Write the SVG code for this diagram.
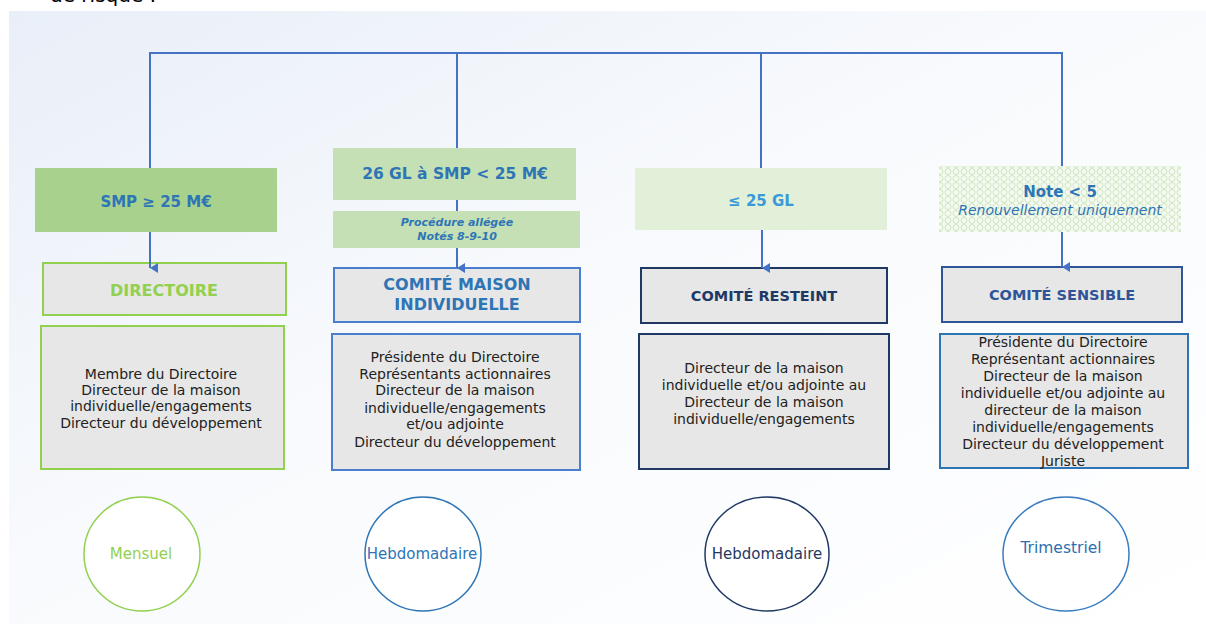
<svg xmlns="http://www.w3.org/2000/svg" width="1206" height="624" viewBox="0 0 1206 624">
  <defs>
    <linearGradient id="bg" x1="0" y1="0" x2="1" y2="1">
      <stop offset="0" stop-color="#e9eff8"/>
      <stop offset="0.45" stop-color="#f8fafd"/>
      <stop offset="1" stop-color="#ffffff"/>
    </linearGradient>
    <pattern id="dots" width="8" height="7" patternUnits="userSpaceOnUse">
      <rect width="8" height="7" fill="#f4faf0"/>
      <circle cx="4" cy="3.5" r="3" fill="none" stroke="#cfe6c2" stroke-width="1"/>
    </pattern>
    <marker id="arr" markerWidth="10" markerHeight="10" refX="5" refY="8" orient="auto" markerUnits="userSpaceOnUse">
      <path d="M0,0 L10,0 L5,8 Z" fill="#4472c4"/>
    </marker>
    <style>
      .line{stroke:#4472c4;stroke-width:2;fill:none}
      .cond{font-family:"DejaVu Sans","Liberation Sans",sans-serif;font-weight:bold;font-size:15px;fill:#2e75b6;text-anchor:middle}
      .head{font-family:"DejaVu Sans","Liberation Sans",sans-serif;font-weight:bold;font-size:14.5px;text-anchor:middle}
      .body{font-family:"DejaVu Sans","Liberation Sans",sans-serif;font-size:14px;fill:#222;text-anchor:middle}
      .freq{font-family:"DejaVu Sans","Liberation Sans",sans-serif;font-size:15px;text-anchor:middle}
      .box{fill:#e7e7e7;stroke-width:2}
    </style>
  </defs>

  <text x="50" y="2" font-family="DejaVu Sans, sans-serif" font-size="20" fill="#000">de risque :</text>
  <rect x="9" y="11" width="1197" height="613" fill="url(#bg)"/>

  <g id="col1">
    <g id="cond-smp">
      <rect x="35" y="168" width="242" height="64" fill="#a9d18e"/>
      <text class="cond" x="156" y="207">SMP  ≥ 25 M€</text>
    </g>
    <g id="directoire">
      <rect class="box" x="43" y="263" width="243" height="52" stroke="#92d050"/>
      <text class="head" x="164" y="296" fill="#92d050" style="font-size:16px">DIRECTOIRE</text>
    </g>
    <g id="directoire-membres">
      <rect class="box" x="41" y="326" width="243" height="143" stroke="#92d050"/>
      <text class="body" x="161" y="379">Membre du Directoire</text>
      <text class="body" x="161" y="395">Directeur de la maison</text>
      <text class="body" x="161" y="411">individuelle/engagements</text>
      <text class="body" x="161" y="428">Directeur du développement</text>
    </g>
    <g id="freq-mensuel">
      <ellipse cx="142" cy="554" rx="58" ry="57" fill="#fff" stroke="#92d050" stroke-width="1.5"/>
      <text class="freq" x="141" y="559" fill="#92d050">Mensuel</text>
    </g>
  </g>

  <g id="col2">
    <g id="cond-26gl">
      <rect x="333" y="148" width="243" height="52" fill="#c5e0b4"/>
      <text class="cond" x="455" y="179" style="font-size:15.5px">26 GL à SMP &lt;  25 M€</text>
    </g>
    <g id="procedure">
      <rect x="333" y="211" width="247" height="37" fill="#c5e0b4"/>
      <text x="457" y="226" font-family="DejaVu Sans, sans-serif" font-size="11" font-weight="bold" font-style="italic" fill="#2e75b6" text-anchor="middle">Procédure allégée</text>
      <text x="457" y="240" font-family="DejaVu Sans, sans-serif" font-size="11" font-weight="bold" font-style="italic" fill="#2e75b6" text-anchor="middle">Notés 8-9-10</text>
    </g>
    <g id="comite-maison">
      <rect class="box" x="334" y="268" width="246" height="54" stroke="#4a7fd0"/>
      <text class="head" x="457" y="290" fill="#2e75b6" style="font-size:16px">COMITÉ MAISON</text>
      <text class="head" x="457" y="310" fill="#2e75b6" style="font-size:16px">INDIVIDUELLE</text>
    </g>
    <g id="comite-maison-membres">
      <rect class="box" x="332" y="334" width="248" height="136" stroke="#4a7fd0"/>
      <text class="body" x="455" y="362">Présidente du Directoire</text>
      <text class="body" x="455" y="379">Représentants actionnaires</text>
      <text class="body" x="455" y="395">Directeur de la maison</text>
      <text class="body" x="455" y="413">individuelle/engagements</text>
      <text class="body" x="455" y="429">et/ou adjointe</text>
      <text class="body" x="455" y="447">Directeur du développement</text>
    </g>
    <g id="freq-hebdo1">
      <ellipse cx="423" cy="554" rx="58" ry="57" fill="#fff" stroke="#2e75b6" stroke-width="1.5"/>
      <text class="freq" x="422" y="559" fill="#2e75b6">Hebdomadaire</text>
    </g>
  </g>

  <g id="col3">
    <g id="cond-25gl">
      <rect x="635" y="168" width="252" height="62" fill="#e2f0d9"/>
      <text class="cond" x="761" y="206" style="fill:#3a9ad9">≤ 25 GL</text>
    </g>
    <g id="comite-resteint">
      <rect class="box" x="641" y="268" width="246" height="55" stroke="#1f3864"/>
      <text class="head" x="764" y="301" fill="#203864">COMITÉ RESTEINT</text>
    </g>
    <g id="comite-resteint-membres">
      <rect class="box" x="639" y="334" width="250" height="135" stroke="#1f3864"/>
      <text class="body" x="764" y="373">Directeur de la maison</text>
      <text class="body" x="764" y="390">individuelle et/ou adjointe au</text>
      <text class="body" x="764" y="407">Directeur de la maison</text>
      <text class="body" x="764" y="424">individuelle/engagements</text>
    </g>
    <g id="freq-hebdo2">
      <ellipse cx="767" cy="554" rx="62" ry="57" fill="#fff" stroke="#1f3864" stroke-width="1.5"/>
      <text class="freq" x="767" y="559" fill="#1f3864">Hebdomadaire</text>
    </g>
  </g>

  <g id="col4">
    <g id="cond-note">
      <rect x="939" y="166" width="242" height="66" fill="url(#dots)"/>
      <text class="cond" x="1060" y="197">Note &lt; 5</text>
      <text x="1060" y="215" font-family="DejaVu Sans, sans-serif" font-size="14" font-style="italic" fill="#2e75b6" text-anchor="middle">Renouvellement uniquement</text>
    </g>
    <g id="comite-sensible">
      <rect class="box" x="942" y="267" width="240" height="55" stroke="#2f5597"/>
      <text class="head" x="1062" y="300" fill="#2f5597">COMITÉ SENSIBLE</text>
    </g>
    <g id="comite-sensible-membres">
      <rect class="box" x="940" y="334" width="248" height="134" stroke="#2e75b6"/>
      <text class="body" x="1063" y="347">Présidente du Directoire</text>
      <text class="body" x="1063" y="364">Représentant actionnaires</text>
      <text class="body" x="1063" y="381">Directeur de la maison</text>
      <text class="body" x="1063" y="398">individuelle et/ou adjointe au</text>
      <text class="body" x="1063" y="415">directeur de la maison</text>
      <text class="body" x="1063" y="432">individuelle/engagements</text>
      <text class="body" x="1063" y="449">Directeur du développement</text>
      <text class="body" x="1063" y="466">Juriste</text>
    </g>
    <g id="freq-trimestriel">
      <ellipse cx="1066" cy="554" rx="63" ry="57" fill="#fff" stroke="#3a7cc0" stroke-width="1.5"/>
      <text class="freq" x="1061" y="553" fill="#2e6fb0" style="font-size:15.5px">Trimestriel</text>
    </g>
  </g>

  <g id="connectors">
    <polyline class="line" points="150,168 150,53 1062,53 1062,166"/>
    <line class="line" x1="457" y1="53" x2="457" y2="148"/>
    <line class="line" x1="761" y1="53" x2="761" y2="168"/>
    <line class="line" x1="150" y1="232" x2="150" y2="268" marker-end="url(#arr)"/>
    <line class="line" x1="457" y1="200" x2="457" y2="211"/>
    <line class="line" x1="457" y1="248" x2="457" y2="268" marker-end="url(#arr)"/>
    <line class="line" x1="762" y1="230" x2="762" y2="268" marker-end="url(#arr)"/>
    <line class="line" x1="1062" y1="232" x2="1062" y2="267" marker-end="url(#arr)"/>
  </g>
</svg>
